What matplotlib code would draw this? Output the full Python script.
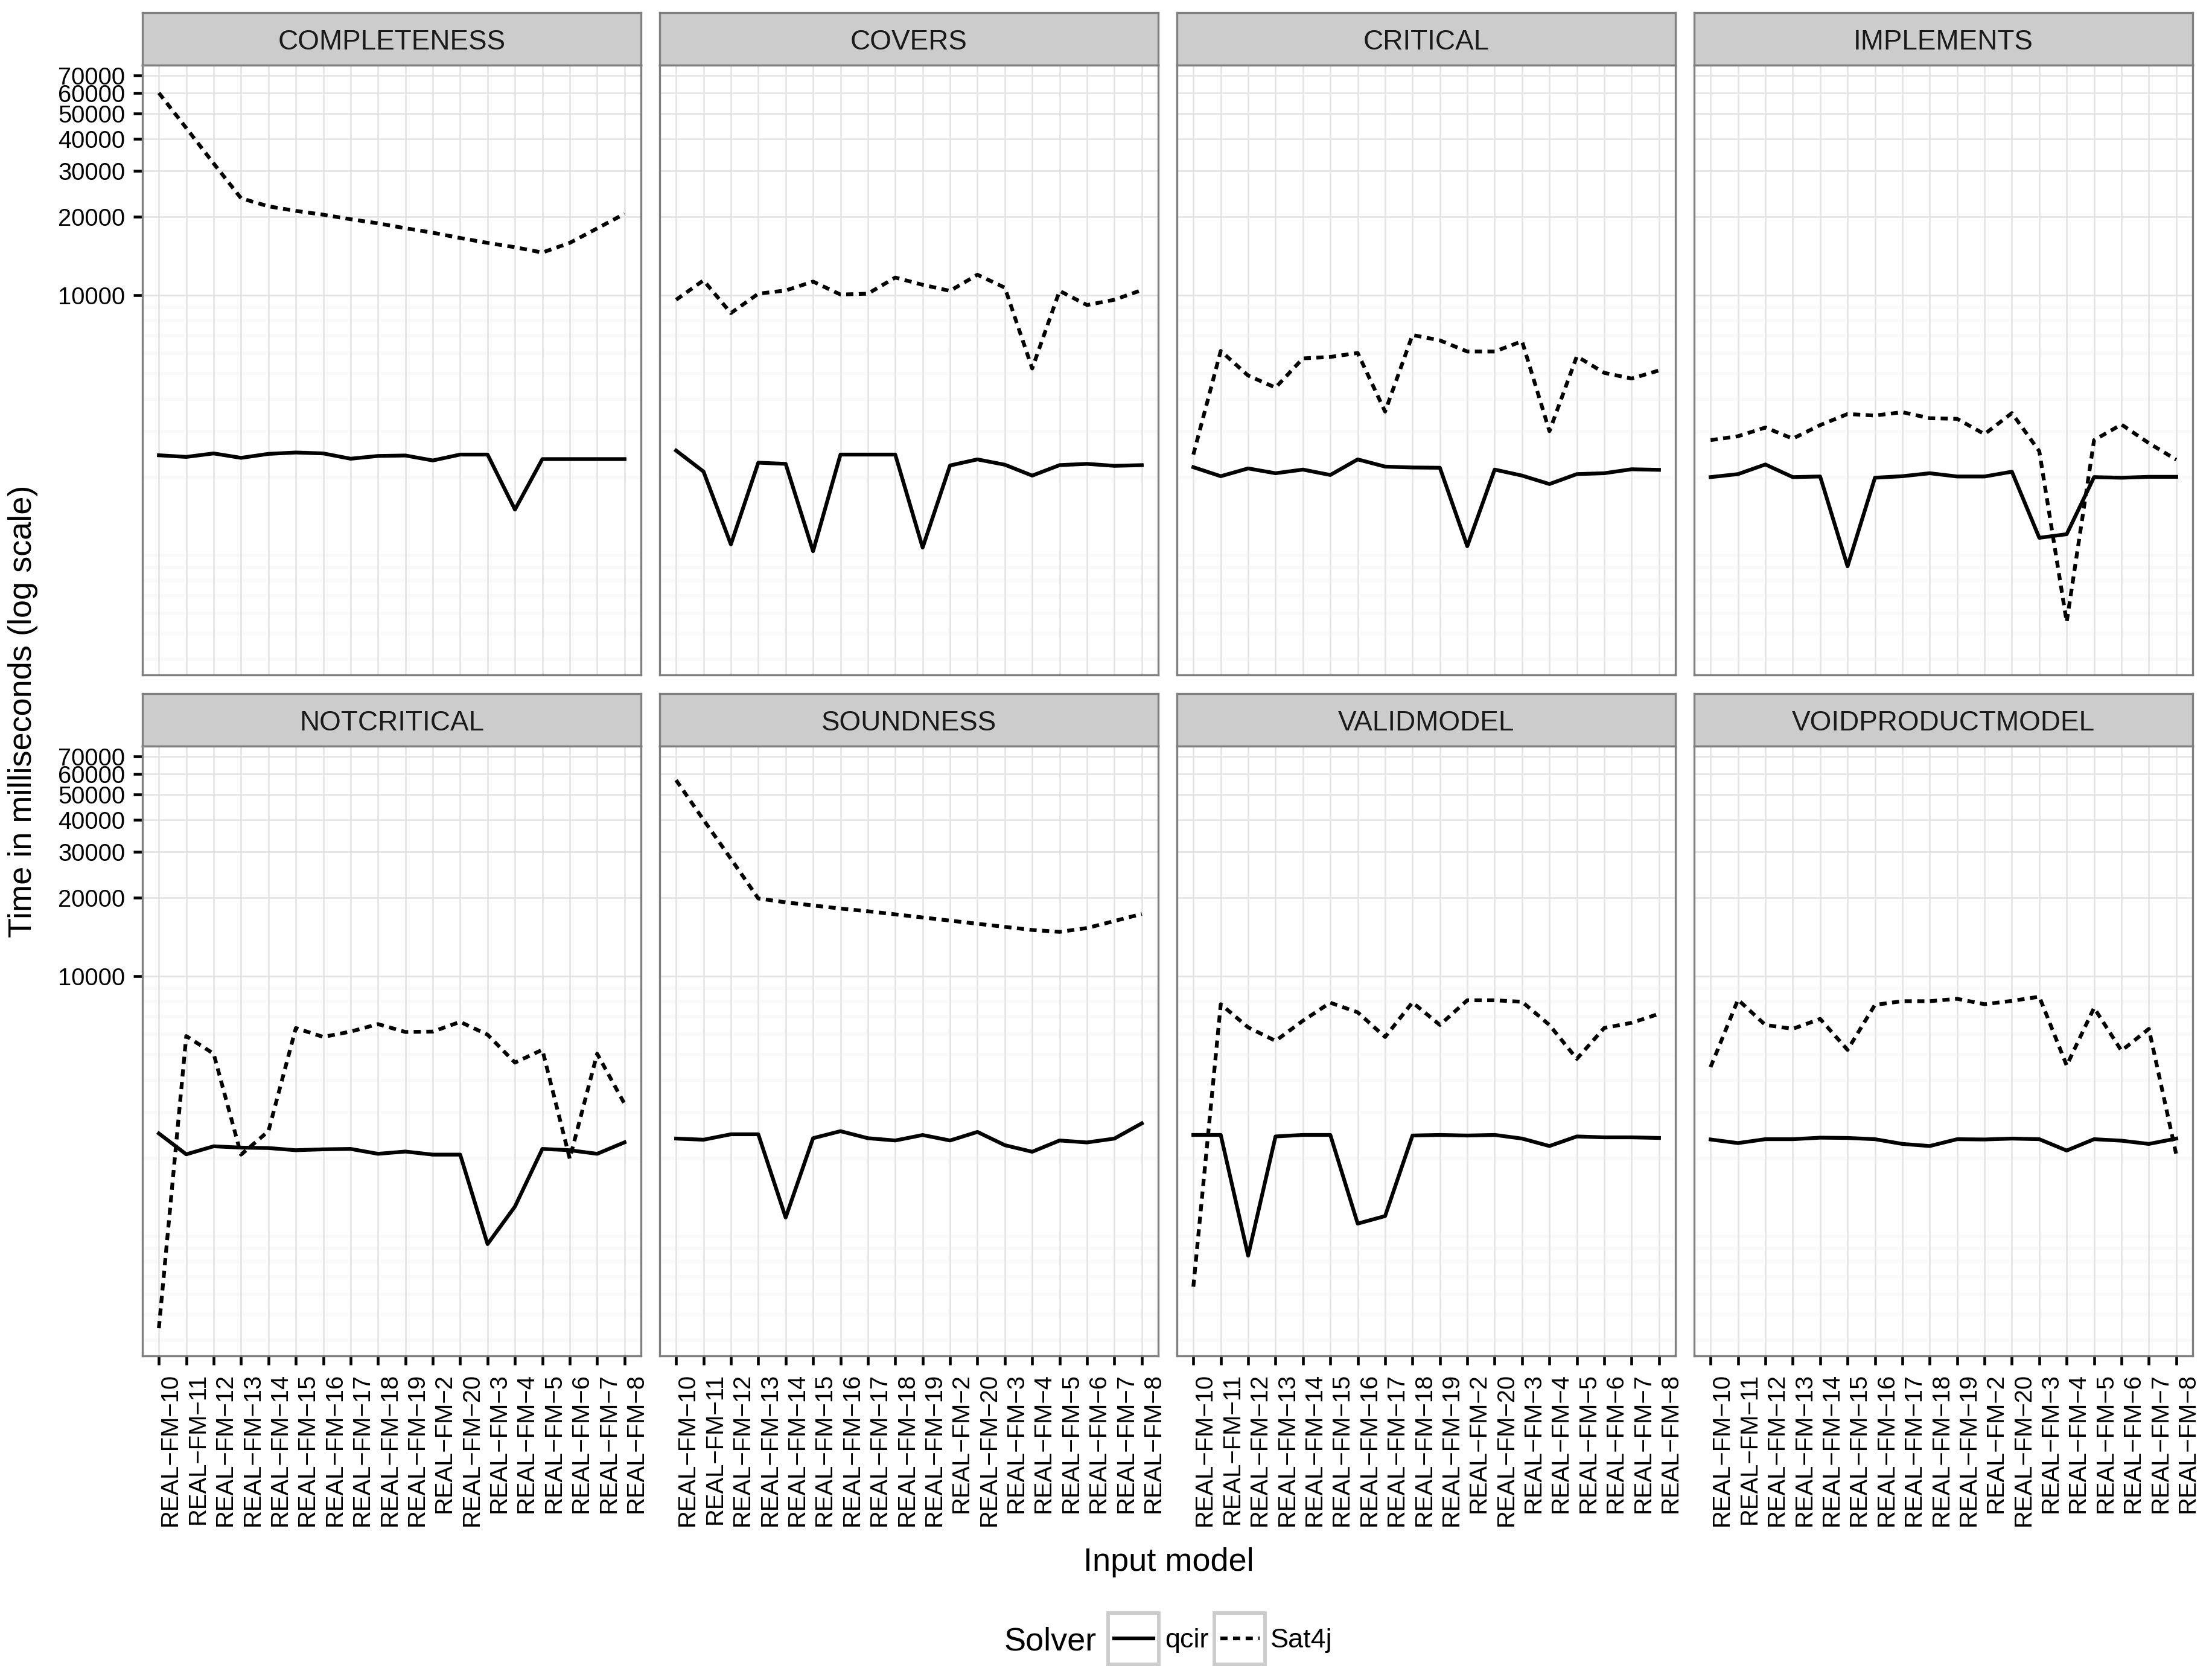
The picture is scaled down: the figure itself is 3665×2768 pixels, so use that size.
import numpy as np
import matplotlib
matplotlib.use('Agg')
import matplotlib.pyplot as plt
from matplotlib.lines import Line2D
from matplotlib.patches import Rectangle
from matplotlib.ticker import NullLocator, NullFormatter

plt.rcParams['font.family'] = ['Liberation Sans', 'DejaVu Sans']

# Input models on the x axis (alphabetical order, as in the original)
models = ['REAL\u2212FM\u221210', 'REAL\u2212FM\u221211', 'REAL\u2212FM\u221212', 'REAL\u2212FM\u221213',
          'REAL\u2212FM\u221214', 'REAL\u2212FM\u221215', 'REAL\u2212FM\u221216', 'REAL\u2212FM\u221217',
          'REAL\u2212FM\u221218', 'REAL\u2212FM\u221219', 'REAL\u2212FM\u22122', 'REAL\u2212FM\u221220',
          'REAL\u2212FM\u22123', 'REAL\u2212FM\u22124', 'REAL\u2212FM\u22125', 'REAL\u2212FM\u22126',
          'REAL\u2212FM\u22127', 'REAL\u2212FM\u22128']

# Time in ms
completeness_qcir = [2430, 2395, 2470, 2375, 2460, 2490, 2470, 2357, 2415, 2425, 2321, 2445, 2445, 1503, 2349, 2349, 2349, 2349]
completeness_sat4j = [59900, 43900, 32100, 23600, 21970, 21100, 20400, 19600, 18900, 18100, 17400, 16600, 15900, 15300, 14600, 15900, 18070, 20560]

covers_qcir = [2533, 2104, 1105, 2276, 2252, 1040, 2445, 2445, 2445, 1074, 2220, 2343, 2235, 2030, 2227, 2252, 2213, 2227]
covers_sat4j = [9614, 11415, 8545, 10144, 10438, 11290, 10070, 10144, 11700, 10975, 10400, 12000, 10700, 5236, 10400, 9177, 9614, 10475]

critical_qcir = [2187, 2019, 2163, 2073, 2141, 2041, 2343, 2198, 2181, 2176, 1087, 2141, 2030, 1884, 2057, 2073, 2147, 2136]
critical_sat4j = [2445, 6115, 4918, 4420, 5724, 5799, 6004, 3575, 7040, 6713, 6083, 6083, 6660, 3007, 5830, 5038, 4790, 5145]

implements_qcir = [2003, 2057, 2240, 2003, 2014, 910, 1992, 2019, 2073, 2014, 2014, 2101, 1171, 1209, 2003, 1992, 2008, 2008]
implements_sat4j = [2778, 2875, 3106, 2815, 3173, 3500, 3453, 3557, 3372, 3354, 2929, 3528, 2518, 556, 2778, 3190, 2705, 2337]

notcritical_qcir = [2490, 2071, 2223, 2197, 2189, 2147, 2164, 2172, 2080, 2122, 2065, 2065, 936, 1305, 2172, 2147, 2080, 2302]
notcritical_sat4j = [445, 5893, 5040, 2065, 2541, 6325, 5848, 6130, 6550, 6110, 6130, 6680, 5965, 4660, 5220, 1993, 5040, 3237]

soundness_qcir = [2380, 2356, 2472, 2472, 1184, 2388, 2541, 2388, 2340, 2456, 2340, 2524, 2245, 2118, 2340, 2300, 2380, 2723]
soundness_sat4j = [56660, 39890, 28270, 19900, 19230, 18710, 18200, 17770, 17290, 16820, 16360, 15910, 15480, 15060, 14810, 15320, 16300, 17350]

validmodel_qcir = [2458, 2458, 845, 2425, 2458, 2458, 1122, 1199, 2445, 2458, 2445, 2458, 2380, 2228, 2425, 2406, 2406, 2393]
validmodel_sat4j = [642, 7810, 6365, 5647, 6749, 7915, 7270, 5845, 7937, 6501, 8087, 8087, 7980, 6501, 4817, 6331, 6626, 7174]

voidproductmodel_qcir = [2361, 2287, 2367, 2367, 2399, 2393, 2367, 2270, 2228, 2367, 2361, 2380, 2367, 2141, 2367, 2336, 2270, 2380]
voidproductmodel_sat4j = [4480, 8128, 6501, 6281, 6857, 5216, 7767, 8022, 8022, 8193, 7810, 8043, 8346, 4541, 7564, 5175, 6281, 2068]

panels = [
    ('COMPLETENESS', completeness_qcir, completeness_sat4j),
    ('COVERS', covers_qcir, covers_sat4j),
    ('CRITICAL', critical_qcir, critical_sat4j),
    ('IMPLEMENTS', implements_qcir, implements_sat4j),
    ('NOTCRITICAL', notcritical_qcir, notcritical_sat4j),
    ('SOUNDNESS', soundness_qcir, soundness_sat4j),
    ('VALIDMODEL', validmodel_qcir, validmodel_sat4j),
    ('VOIDPRODUCTMODEL', voidproductmodel_qcir, voidproductmodel_sat4j),
]

y_breaks = [10000, 20000, 30000, 40000, 50000, 60000, 70000]
y_minor = [400, 500, 600, 700, 800, 900, 1000, 2000, 3000, 4000, 5000, 6000, 7000, 8000, 9000]

# ggplot-like log scale limits: data range plus 5% on each side
all_vals = np.concatenate([np.r_[q, s] for _, q, s in panels])
lo, hi = np.log10(all_vals.min()), np.log10(all_vals.max())
pad = 0.05 * (hi - lo)
y_lim = (10 ** (lo - pad), 10 ** (hi + pad))

W, H = 3665, 2768
fig = plt.figure(figsize=(W / 300, H / 300), dpi=300)


def frac(left, top, width, height):
    return [left / W, 1 - (top + height) / H, width / W, height / H]


border = '#7F7F7F'
line_w = 1.5
dash = (0, (1.9, 1.45))
x = np.arange(len(models))

for i, (name, qcir, sat4j) in enumerate(panels):
    row, col = divmod(i, 4)
    left = 236 + col * 857
    strip_top = 21 + row * 1128
    panel_top = 108 + row * 1128

    # facet strip
    sax = fig.add_axes(frac(left, strip_top, 826, 87))
    sax.set_facecolor('#CCCCCC')
    sax.set_xticks([])
    sax.set_yticks([])
    for sp in sax.spines.values():
        sp.set_color(border)
        sp.set_linewidth(0.8)
    sax.text(0.5, 0.5, name, transform=sax.transAxes, ha='center', va='center_baseline',
             fontsize=11, color='#1A1A1A')

    ax = fig.add_axes(frac(left, panel_top, 826, 1010))
    ax.set_yscale('log')
    ax.set_xlim(-0.6, len(models) - 1 + 0.6)
    ax.set_ylim(*y_lim)

    # grid
    for v in y_minor:
        ax.axhline(v, color='#FAFAFA', lw=1.4, zorder=0.1)
    for v in y_breaks:
        ax.axhline(v, color='#E5E5E5', lw=0.65, zorder=0.2)
    for v in x:
        ax.axvline(v, color='#E5E5E5', lw=0.65, zorder=0.2)

    ax.plot(x, qcir, color='black', lw=line_w, zorder=2)
    ax.plot(x, sat4j, color='black', lw=line_w, linestyle=dash, zorder=2)

    for sp in ax.spines.values():
        sp.set_color(border)
        sp.set_linewidth(0.8)
        sp.set_zorder(3)

    ax.set_yticks(y_breaks)
    ax.yaxis.set_minor_locator(NullLocator())
    ax.yaxis.set_minor_formatter(NullFormatter())
    ax.set_xticks(x)
    ax.tick_params(length=3.6, width=1.1, color='black', pad=3.3, labelsize=9.6, labelcolor='black')

    if col == 0:
        ax.set_yticklabels([str(b) for b in y_breaks])
    else:
        ax.tick_params(axis='y', left=False, labelleft=False)

    if row == 1:
        ax.set_xticklabels(models, rotation=90, ha='left', va='top')
    else:
        ax.tick_params(axis='x', bottom=False, labelbottom=False)

# axis titles
fig.text(1936 / W, 1 - 2602 / H, 'Input model', ha='center', va='baseline', fontsize=13)
fig.text(38 / W, 1 - 1178 / H, 'Time in milliseconds (log scale)', rotation=90,
         ha='center', va='center', fontsize=13)

# legend at the bottom
fig.text(1664 / W, 1 - 2733 / H, 'Solver', ha='left', va='baseline', fontsize=13)
for key_left, label_left, style, label in [(1836, 1930, '-', 'qcir'), (2012, 2105, dash, 'Sat4j')]:
    fig.add_artist(Rectangle((key_left / W, 1 - 2757 / H), 84 / W, 85 / H, transform=fig.transFigure,
                             facecolor='white', edgecolor='#CCCCCC', lw=1.4))
    fig.add_artist(Line2D([(key_left + 10) / W, (key_left + 75) / W], [1 - 2714 / H, 1 - 2714 / H],
                          transform=fig.transFigure, color='black', lw=line_w, linestyle=style))
    fig.text(label_left / W, 1 - 2729 / H, label, ha='left', va='baseline', fontsize=10.8)

fig.savefig('out.png', dpi=300, facecolor='white')
